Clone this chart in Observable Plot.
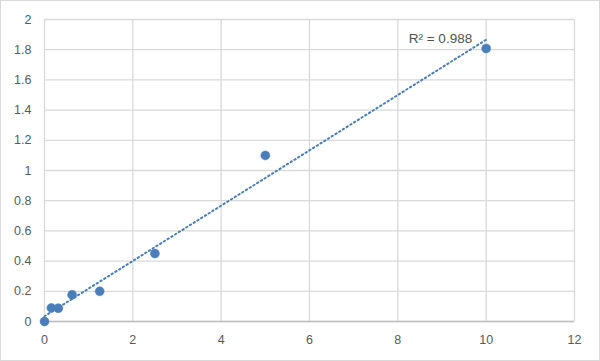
<!DOCTYPE html>
<html>
<head>
<meta charset="utf-8">
<script src="https://cdn.jsdelivr.net/npm/d3@7"></script>
<script src="https://cdn.jsdelivr.net/npm/@observablehq/plot@0.6"></script>
<style>
  html, body { margin: 0; padding: 0; background: #fff; }
  #chart svg { display: block; outline: 1px solid #d9d9d9; outline-offset: -1px; }
</style>
</head>
<body>
<div id="chart"></div>
<script>
const concentrations = [0, 0.156, 0.3125, 0.625, 1.25, 2.5, 5, 10];
const absorbances = [0, 0.09, 0.088, 0.177, 0.2, 0.45, 1.1, 1.808];
const xTicks = [0, 2, 4, 6, 8, 10, 12];
const yTicks = [0, 0.2, 0.4, 0.6, 0.8, 1, 1.2, 1.4, 1.6, 1.8, 2];
const r2Label = "R² = 0.988";

const data = concentrations.map((c, i) => ({x: c, y: absorbances[i]}));
const last = [data[data.length - 1]];

const blue = "#4a7ebb";
const grid = "#d9d9d9";
const textColor = "#595959";

const chart = Plot.plot({
  width: 600,
  height: 361,
  marginLeft: 44,
  marginRight: 26,
  marginTop: 19,
  marginBottom: 40,
  style: {fontFamily: "'Liberation Sans', Arial, sans-serif", fontSize: "12.5px", color: textColor, background: "#fff"},
  x: {domain: [0, 12], ticks: xTicks, tickSize: 0, tickPadding: 14, label: null},
  y: {domain: [0, 2], ticks: yTicks, tickSize: 0, tickPadding: 13, label: null,
      tickFormat: d => String(+d.toFixed(1))},
  marks: [
    Plot.gridX(xTicks, {stroke: grid, strokeOpacity: 1, strokeWidth: 1.3}),
    Plot.gridY(yTicks, {stroke: grid, strokeOpacity: 1, strokeWidth: 1.3}),
    Plot.ruleY([0], {stroke: "#bfbfbf", strokeWidth: 1.3}),
    Plot.axisX({ticks: xTicks, tickSize: 0, tickPadding: 14, fill: textColor}),
    Plot.axisY({ticks: yTicks, tickSize: 0, tickPadding: 13, fill: textColor, tickFormat: d => String(+d.toFixed(1))}),
    Plot.linearRegressionY(data, {x: "x", y: "y", ci: 0, stroke: blue, strokeWidth: 2, strokeDasharray: "1.4,3"}),
    Plot.dot(data, {x: "x", y: "y", r: 4.5, fill: blue, stroke: blue, strokeWidth: 0.5}),
    Plot.text(last, {x: "x", y: "y", text: () => r2Label, textAnchor: "end", dx: -14, dy: -10, fill: "#505050", fontSize: 13.5})
  ]
});
document.getElementById("chart").appendChild(chart);
</script>
</body>
</html>
